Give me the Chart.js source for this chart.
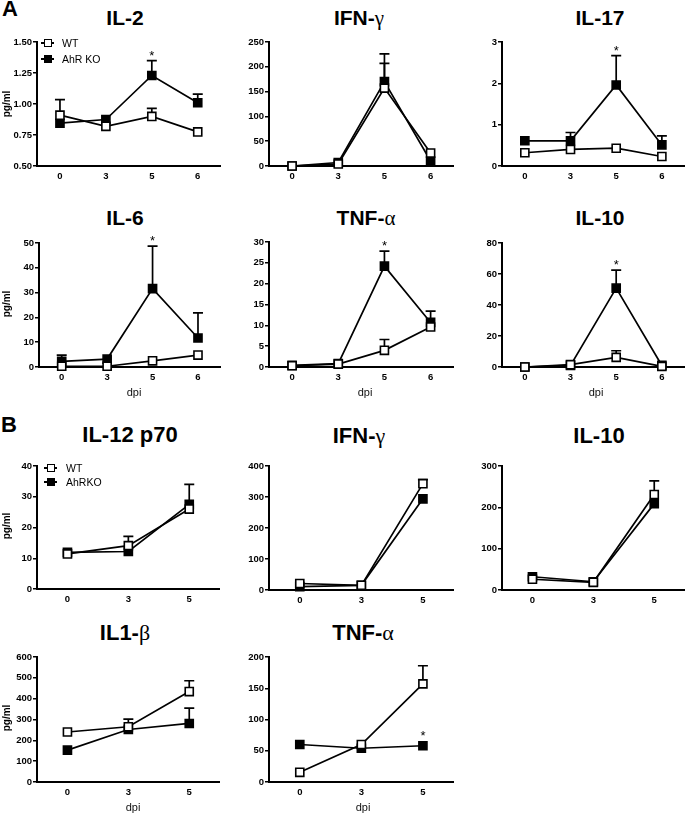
<!DOCTYPE html>
<html>
<head>
<meta charset="utf-8">
<script src="https://cdn.jsdelivr.net/npm/chart.js@4.4.0/dist/chart.umd.min.js"></script>
<style>
  body { margin: 0; background: #fff; width: 691px; height: 813px; position: relative; overflow: hidden;
         font-family: "Liberation Sans", Arial, sans-serif; color: #000; }
  canvas { position: absolute; }
  .ttl { position: absolute; font-weight: bold; font-size: 21px; line-height: 1; white-space: nowrap; width: 160px; text-align: center; }
  .ttl.b { font-size: 22px; }
  .gr { font-family: "Liberation Serif", "DejaVu Serif", serif; font-weight: normal; }
  .pl { position: absolute; font-weight: bold; font-size: 22px; line-height: 1; }
  .yl { position: absolute; font-weight: bold; font-size: 10px; line-height: 1; white-space: nowrap;
        transform: translate(-50%, -50%) rotate(-90deg); }
  .xl { position: absolute; font-size: 11px; line-height: 1; width: 40px; text-align: center; color: #111;
        will-change: transform; transform: translateZ(0); }
  .sym { position: absolute; width: 13px; height: 8px; z-index: 2; }
  .sym::before { content: ""; position: absolute; left: 0; right: 0; top: 3px; height: 2px; background: #000; }
  .sym::after { content: ""; position: absolute; left: 2.5px; top: 0; width: 8px; height: 8px; box-sizing: border-box;
                border: 1.5px solid #000; background: #fff; }
  .sym.ko::after { background: #000; }
  .lt { position: absolute; font-size: 10.5px; line-height: 12px; z-index: 2; }
</style>
</head>
<body>

<div class="pl" style="left:2px;top:-2px">A</div>
<div class="pl" style="left:1px;top:414px">B</div>

<div class="ttl" style="left:45px;top:7px">IL-2</div>
<div class="ttl" style="left:279px;top:7px">IFN-<span class="gr">γ</span></div>
<div class="ttl" style="left:520px;top:7px">IL-17</div>
<div class="ttl" style="left:45px;top:207px">IL-6</div>
<div class="ttl" style="left:286px;top:207px">TNF-<span class="gr">α</span></div>
<div class="ttl" style="left:520px;top:207px">IL-10</div>
<div class="ttl b" style="left:50px;top:424px">IL-12 p70</div>
<div class="ttl b" style="left:279px;top:425px">IFN-<span class="gr">γ</span></div>
<div class="ttl b" style="left:519px;top:425px">IL-10</div>
<div class="ttl b" style="left:45px;top:622px">IL1-<span class="gr">β</span></div>
<div class="ttl b" style="left:283px;top:622px">TNF-<span class="gr">α</span></div>

<div class="yl" style="left:7px;top:104px">pg/ml</div>
<div class="yl" style="left:7px;top:304px">pg/ml</div>
<div class="yl" style="left:7px;top:526px">pg/ml</div>
<div class="yl" style="left:7px;top:718px">pg/ml</div>

<div class="xl" style="left:114px;top:387px">dpi</div>
<div class="xl" style="left:345px;top:387px">dpi</div>
<div class="xl" style="left:576px;top:387px">dpi</div>
<div class="xl" style="left:113px;top:802px">dpi</div>
<div class="xl" style="left:343px;top:802px">dpi</div>

<div class="sym" style="left:41px;top:39px"></div><div class="lt" style="left:62px;top:37px">WT</div>
<div class="sym ko" style="left:41px;top:55px"></div><div class="lt" style="left:62px;top:53px">AhR KO</div>
<div class="sym" style="left:44px;top:464px"></div><div class="lt" style="left:66px;top:462px">WT</div>
<div class="sym ko" style="left:44px;top:478px"></div><div class="lt" style="left:66px;top:476px">AhRKO</div>

<script>
// x categories (days post infection)
const daysA = ['0', '3', '5', '6'];
const daysB = ['0', '3', '5'];

// panel A  (values, and top of error bar where one is drawn)
const il2WT = [0.91, 0.82, 0.90, 0.775];
const il2WTTop = [1.035, null, 0.965, null];
const il2KO = [0.845, 0.875, 1.23, 1.01];
const il2KOTop = [null, null, 1.35, 1.08];

const ifngAWT = [0, 4, 157, 26];
const ifngAWTTop = [null, null, 207, null];
const ifngAKO = [0, 7, 170, 10];
const ifngAKOTop = [null, null, 226, null];

const il17WT = [0.32, 0.40, 0.43, 0.23];
const il17WTTop = [null, null, null, null];
const il17KO = [0.61, 0.61, 1.96, 0.51];
const il17KOTop = [null, 0.81, 2.67, 0.73];

const il6WT = [0.3, 0.3, 2.5, 4.8];
const il6WTTop = [null, null, null, null];
const il6KO = [2.3, 3.2, 31.6, 11.7];
const il6KOTop = [4.8, null, 48.7, 21.8];

const tnfAWT = [0.3, 0.7, 4.0, 9.6];
const tnfAWTTop = [null, null, 6.6, null];
const tnfAKO = [0.4, 0.8, 24.2, 10.7];
const tnfAKOTop = [null, null, 27.8, 13.4];

const il10AWT = [0, 1.5, 6.2, 0.4];
const il10AWTTop = [null, null, 10.5, null];
const il10AKO = [0, 1.0, 50.9, 1.0];
const il10AKOTop = [null, null, 62.5, null];

// panel B
const il12WT = [11.4, 14.1, 26.0];
const il12WTTop = [null, 17.1, null];
const il12KO = [11.9, 12.2, 27.5];
const il12KOTop = [null, null, 34.0];

const ifngBWT = [21, 15, 343];
const ifngBWTTop = [null, null, 356];
const ifngBKO = [11, 15, 294];
const ifngBKOTop = [null, null, null];

const il10BWT = [26, 18.5, 231];
const il10BWTTop = [null, null, 264];
const il10BKO = [32, 20, 209];
const il10BKOTop = [null, null, null];

const il1bWT = [240, 265, 434];
const il1bWTTop = [null, 302, 486];
const il1bKO = [153, 252, 281];
const il1bKOTop = [null, null, 355];

const tnfBWT = [15.5, 60, 157];
const tnfBWTTop = [null, null, 186];
const tnfBKO = [60, 54, 58];
const tnfBKOTop = [null, null, null];

Chart.defaults.font.family = '"Liberation Sans", Arial, sans-serif';

// error bars (upper only) and significance stars
const errorBars = {
  id: 'errorBars',
  beforeDatasetsDraw(chart) {
    const ctx = chart.ctx, xs = chart.scales.x, ys = chart.scales.y;
    ctx.save();
    ctx.strokeStyle = '#000';
    ctx.lineWidth = 1.7;
    chart.data.datasets.forEach(ds => {
      (ds.tops || []).forEach((t, i) => {
        if (t == null) return;
        const px = xs.getPixelForValue(i);
        const y0 = ys.getPixelForValue(ds.data[i]);
        const y1 = ys.getPixelForValue(t);
        ctx.beginPath();
        ctx.moveTo(px, y0); ctx.lineTo(px, y1);
        ctx.moveTo(px - 5, y1); ctx.lineTo(px + 5, y1);
        ctx.stroke();
      });
    });
    ctx.restore();
  },
  afterDatasetsDraw(chart) {
    const ctx = chart.ctx, xs = chart.scales.x, ys = chart.scales.y;
    chart.data.datasets.forEach(ds => {
      if (ds.star == null) return;
      const i = ds.star;
      const t = ds.tops && ds.tops[i] != null ? ys.getPixelForValue(ds.tops[i]) : ys.getPixelForValue(ds.data[i]) - 5;
      ctx.save();
      ctx.fillStyle = '#000';
      ctx.font = '13px "Liberation Sans", Arial, sans-serif';
      ctx.textAlign = 'center';
      ctx.textBaseline = 'alphabetic';
      ctx.fillText('*', xs.getPixelForValue(i), t - 1);
      ctx.restore();
    });
  }
};

// each panel: data, y range, and plot box [left, right, top, bottom] in page pixels
const panels = [
  { labels: daysA, wt: il2WT, wtTop: il2WTTop, ko: il2KO, koTop: il2KOTop, min: 0.5, max: 1.5, step: 0.25, dec: 2, star: 2, box: [37, 227, 42, 166] },
  { labels: daysA, wt: ifngAWT, wtTop: ifngAWTTop, ko: ifngAKO, koTop: ifngAKOTop, min: 0, max: 250, step: 50, dec: 0, star: null, box: [269, 460, 42, 166] },
  { labels: daysA, wt: il17WT, wtTop: il17WTTop, ko: il17KO, koTop: il17KOTop, min: 0, max: 3, step: 1, dec: 0, star: 2, box: [502, 691, 42, 166] },
  { labels: daysA, wt: il6WT, wtTop: il6WTTop, ko: il6KO, koTop: il6KOTop, min: 0, max: 50, step: 10, dec: 0, star: 2, box: [39, 227, 243, 367] },
  { labels: daysA, wt: tnfAWT, wtTop: tnfAWTTop, ko: tnfAKO, koTop: tnfAKOTop, min: 0, max: 30, step: 5, dec: 0, star: 2, box: [269, 460, 242, 367] },
  { labels: daysA, wt: il10AWT, wtTop: il10AWTTop, ko: il10AKO, koTop: il10AKOTop, min: 0, max: 80, step: 20, dec: 0, star: 2, box: [502, 691, 243, 367] },
  { labels: daysB, wt: il12WT, wtTop: il12WTTop, ko: il12KO, koTop: il12KOTop, min: 0, max: 40, step: 10, dec: 0, star: null, box: [37, 226, 466, 589] },
  { labels: daysB, wt: ifngBWT, wtTop: ifngBWTTop, ko: ifngBKO, koTop: ifngBKOTop, min: 0, max: 400, step: 100, dec: 0, star: null, box: [269, 460, 466, 590] },
  { labels: daysB, wt: il10BWT, wtTop: il10BWTTop, ko: il10BKO, koTop: il10BKOTop, min: 0, max: 300, step: 100, dec: 0, star: null, box: [502, 691, 466, 590] },
  { labels: daysB, wt: il1bWT, wtTop: il1bWTTop, ko: il1bKO, koTop: il1bKOTop, min: 0, max: 600, step: 100, dec: 0, star: null, box: [37, 226, 657, 782] },
  { labels: daysB, wt: tnfBWT, wtTop: tnfBWTTop, ko: tnfBKO, koTop: tnfBKOTop, min: 0, max: 200, step: 50, dec: 0, star: 2, box: [269, 460, 657, 782] }
];

const tickFont = { size: 9.5, weight: 'bold' };

panels.forEach(p => {
  const [l, r, t, b] = p.box;
  const cv = document.createElement('canvas');
  cv.width = (r - l) + 40 + 1;
  cv.height = (b - t) + 12 + 16;
  cv.style.left = (l - 40) + 'px';
  cv.style.top = (t - 12) + 'px';
  document.body.insertBefore(cv, document.body.firstChild);

  const common = {
    borderColor: '#000', borderWidth: 1.7, tension: 0, clip: false,
    pointStyle: 'rect', pointRadius: 5.7, pointBorderColor: '#000', pointBorderWidth: 1.6
  };

  new Chart(cv, {
    type: 'line',
    data: {
      labels: p.labels,
      datasets: [
        { ...common, label: 'WT', data: p.wt, tops: p.wtTop, pointBackgroundColor: '#fff' },
        { ...common, label: 'AhR KO', data: p.ko, tops: p.koTop, star: p.star, pointBackgroundColor: '#000' }
      ]
    },
    options: {
      responsive: false,
      animation: false,
      events: [],
      layout: { padding: { top: 12, right: 1, left: 0, bottom: 0 } },
      plugins: { legend: { display: false }, tooltip: { enabled: false } },
      scales: {
        x: {
          type: 'category', offset: true,
          grid: { display: false, drawTicks: false },
          border: { color: '#000', width: 2 },
          ticks: { color: '#000', font: tickFont, padding: 5, maxRotation: 0 },
          afterFit(a) { a.height = 16; }
        },
        y: {
          min: p.min, max: p.max,
          grid: { drawOnChartArea: false, drawTicks: true, tickLength: 4, color: '#000', lineWidth: 1.5 },
          border: { color: '#000', width: 2 },
          ticks: { stepSize: p.step, color: '#000', font: tickFont, padding: 1,
                   callback: v => Number(v).toFixed(p.dec) },
          afterFit(a) { a.width = 40; }
        }
      }
    },
    plugins: [errorBars]
  });
});
</script>
</body>
</html>
